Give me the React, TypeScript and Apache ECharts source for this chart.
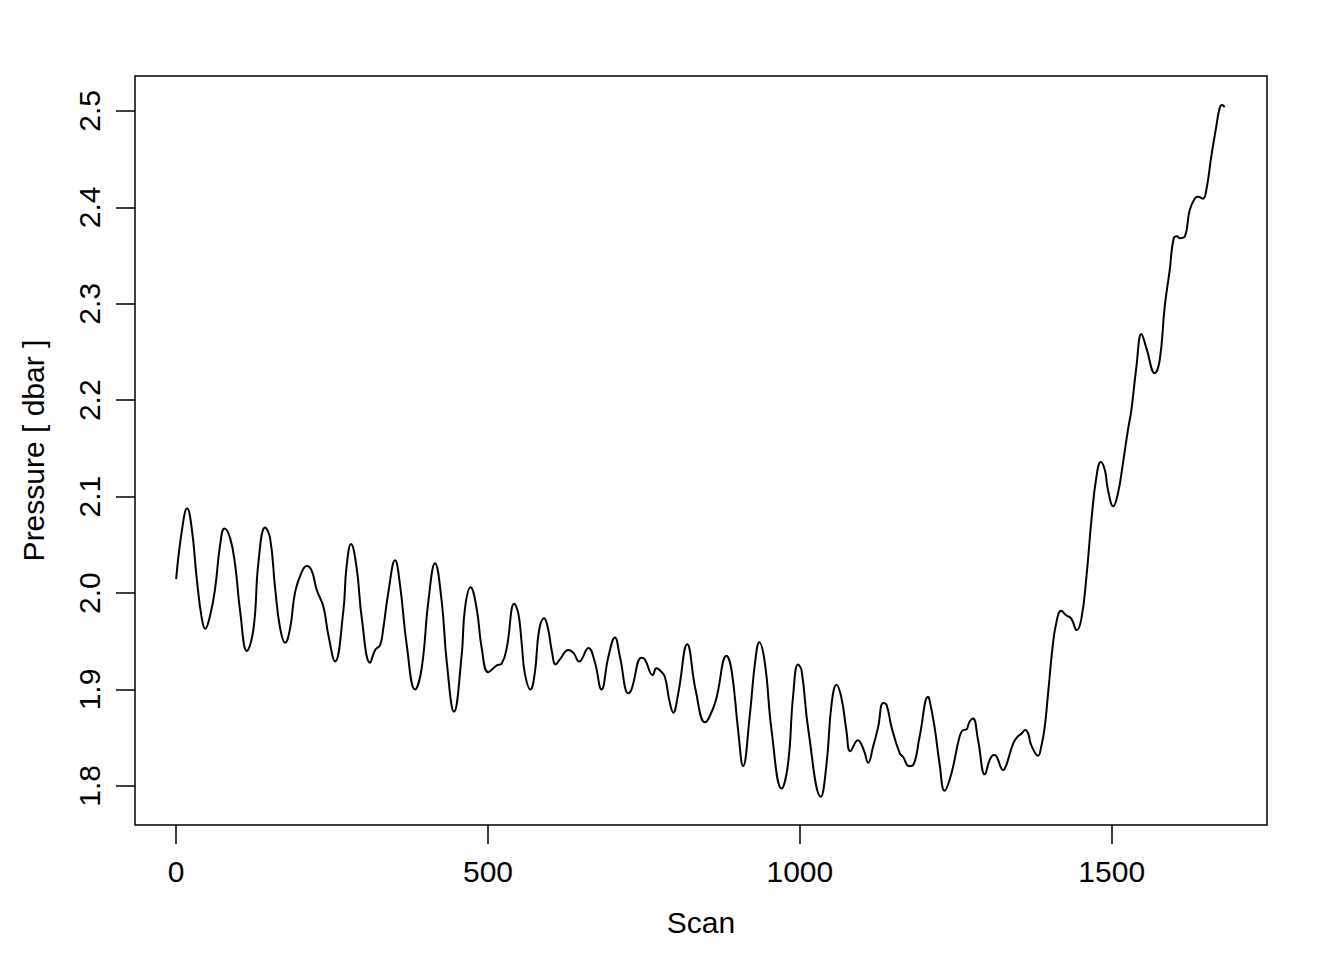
import React, { useEffect, useRef } from "react";
import * as echarts from "echarts";

const scans: number[] = [
  0, 9, 17.6, 25, 33, 41, 46.5, 54.5, 62.5, 70.5, 77.4, 86.5, 94.6, 102.6, 113.3, 124, 132, 142.6, 150.6, 158.7,
  166.7, 174.7, 182.7, 190.7, 201.4, 209.4, 217.4, 225.5, 236, 244, 254.8, 268, 273, 280.4, 289.5, 297.6, 310.9,
  319, 327, 332, 340, 351, 359, 369.7, 383, 393.6, 404.3, 415, 425.8, 433.8, 445.5, 457.8, 463, 472, 481.8, 489.9,
  500.5, 514, 522, 530, 542, 548.6, 554, 559, 568, 575, 582, 590, 596.6, 602, 608.5, 615, 629, 637, 646, 661, 671,
  682, 693, 703.5, 711.5, 725, 730, 746, 751.6, 764, 770, 775.6, 783.6, 790.6, 797, 805, 819.4, 833, 847.8, 854.6,
  865.4, 882.5, 890.5, 901, 909, 920, 928, 935, 944, 954.6, 970.7, 981, 989, 997, 1002.7, 1013.6, 1033.6, 1042.8,
  1051, 1058.8, 1066.8, 1074.5, 1081, 1093, 1102.6, 1109.5, 1117.5, 1125.5, 1133.5, 1139, 1147, 1160, 1165.6, 1175,
  1181.6, 1192, 1205.6, 1208, 1216, 1224, 1232, 1243, 1256, 1262, 1267, 1272, 1277.7, 1285.7, 1296.5, 1304.5, 1311,
  1315, 1326, 1331, 1342, 1350, 1355, 1361.6, 1366, 1371, 1382, 1387, 1392.6, 1398, 1405, 1411, 1419, 1427, 1435,
  1444, 1451.5, 1459.5, 1467.5, 1475.5, 1482.5, 1489, 1494, 1502.5, 1510, 1518, 1526, 1531.6, 1539.6, 1547.6,
  1555.6, 1569, 1577, 1585, 1593, 1599.4, 1605, 1609, 1617, 1625, 1633, 1638.3, 1646.3, 1651.7, 1659.6, 1666.7,
  1673, 1677, 1681,
];

const pressures: number[] = [
  2.0145, 2.064, 2.088, 2.067, 2.015, 1.974, 1.963, 1.977, 2.005, 2.05, 2.067, 2.057, 2.029, 1.981, 1.94, 1.963,
  2.0325, 2.068, 2.057, 2.005, 1.9635, 1.9485, 1.9635, 2.001, 2.022, 2.028, 2.023, 2.003, 1.986, 1.9565, 1.929,
  1.981, 2.026, 2.051, 2.0256, 1.974, 1.9277, 1.941, 1.946, 1.963, 2.0, 2.034, 2.008, 1.946, 1.9, 1.922, 1.991,
  2.031, 1.991, 1.929, 1.877, 1.936, 1.984, 2.006, 1.984, 1.943, 1.918, 1.925, 1.927, 1.943, 1.989, 1.979, 1.948,
  1.917, 1.9, 1.917, 1.962, 1.974, 1.962, 1.941, 1.926, 1.931, 1.941, 1.938, 1.929, 1.943, 1.929, 1.9, 1.934, 1.954,
  1.934, 1.896, 1.9, 1.933, 1.931, 1.915, 1.922, 1.92, 1.913, 1.889, 1.876, 1.896, 1.947, 1.899, 1.866, 1.871,
  1.889, 1.935, 1.92, 1.858, 1.8206, 1.875, 1.927, 1.949, 1.927, 1.858, 1.7974, 1.823, 1.892, 1.926, 1.92, 1.858,
  1.7887, 1.823, 1.886, 1.905, 1.891, 1.858, 1.836, 1.8475, 1.837, 1.824, 1.841, 1.861, 1.886, 1.884, 1.861, 1.834,
  1.83, 1.8205, 1.8216, 1.851, 1.8925, 1.889, 1.861, 1.823, 1.795, 1.813, 1.851, 1.858, 1.8586, 1.8665, 1.87,
  1.8477, 1.812, 1.827, 1.832, 1.831, 1.8165, 1.8216, 1.844, 1.8517, 1.854, 1.858, 1.8545, 1.8423, 1.8313, 1.8406,
  1.861, 1.896, 1.9426, 1.9686, 1.9816, 1.977, 1.9738, 1.9616, 1.9738, 2.017, 2.0757, 2.1206, 2.136, 2.1276, 2.107,
  2.09, 2.1034, 2.1345, 2.169, 2.19, 2.2347, 2.2687, 2.254, 2.228, 2.2417, 2.297, 2.335, 2.368, 2.37, 2.368, 2.3696,
  2.397, 2.409, 2.411, 2.409, 2.418, 2.4526, 2.48, 2.5027, 2.506, 2.504,
];

const xTicks: number[] = [0, 500, 1000, 1500];
const yTicks: number[] = [1.8, 1.9, 2.0, 2.1, 2.2, 2.3, 2.4, 2.5];

export default function App() {
  const ref = useRef<HTMLDivElement>(null);
  useEffect(() => {
    if (!ref.current) return;
    const chart = echarts.init(ref.current, undefined, { renderer: "svg" });
    const font = "Liberation Sans, Arial, Helvetica, sans-serif";
    chart.setOption({
      animation: false,
      backgroundColor: "#ffffff",
      grid: {
        left: 135,
        top: 76,
        width: 1132,
        height: 749,
        show: true,
        borderColor: "#000000",
        borderWidth: 1.5,
        backgroundColor: "transparent",
      },
      xAxis: {
        type: "value",
        min: -66,
        max: 1749,
        name: "Scan",
        nameLocation: "middle",
        nameGap: 82,
        nameTextStyle: { color: "#000", fontSize: 30, fontFamily: font },
        axisLine: { show: false, onZero: false },
        splitLine: { show: false },
        axisTick: {
          show: true,
          length: 19,
          inside: false,
          customValues: xTicks,
          lineStyle: { color: "#000", width: 1.5 },
        },
        axisLabel: {
          customValues: xTicks,
          margin: 31,
          color: "#000",
          fontSize: 30,
          fontFamily: font,
          formatter: (v: number) => String(v),
        },
      },
      yAxis: {
        type: "value",
        min: 1.7595,
        max: 2.5362,
        name: "Pressure [ dbar ]",
        nameLocation: "middle",
        nameGap: 87,
        nameRotate: 90,
        nameTextStyle: { color: "#000", fontSize: 30, fontFamily: font },
        axisLine: { show: false, onZero: false },
        splitLine: { show: false },
        axisTick: {
          show: true,
          length: 19,
          inside: false,
          customValues: yTicks,
          lineStyle: { color: "#000", width: 1.5 },
        },
        axisLabel: {
          customValues: yTicks,
          rotate: 90,
          margin: 31,
          color: "#000",
          fontSize: 30,
          fontFamily: font,
          formatter: (v: number) => v.toFixed(1),
        },
      },
      series: [
        {
          type: "line",
          data: scans.map((s, i) => [s, pressures[i]]),
          showSymbol: false,
          smooth: 0.45,
          lineStyle: { color: "#000", width: 2 },
          clip: true,
        },
      ],
    });
    return () => chart.dispose();
  }, []);
  return (
    <div
      ref={ref}
      style={{ position: "fixed", left: 0, top: 0, width: 1344, height: 960, background: "#fff" }}
    />
  );
}
